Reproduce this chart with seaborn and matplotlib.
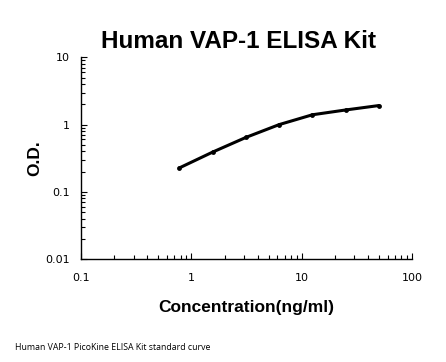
import numpy as np
import pandas as pd
import matplotlib
matplotlib.use("Agg")
import matplotlib.pyplot as plt
import seaborn as sns
from matplotlib.ticker import LogLocator, FixedLocator, FixedFormatter, NullFormatter

# standard curve values
conc = [0.78, 1.56, 3.125, 6.25, 12.5, 25, 50]
od = [0.227, 0.39, 0.645, 1.0, 1.40, 1.65, 1.92]

x_ticks = [0.1, 1, 10, 100]
x_labels = ["0.1", "1", "10", "100"]
y_ticks = [0.01, 0.1, 1, 10]
y_labels = ["0.01", "0.1", "1", "10"]

df = pd.DataFrame({"conc": conc, "od": od})

sns.set_style("white")
plt.rcParams['font.family'] = ['Liberation Sans', 'DejaVu Sans']
plt.rcParams['text.color'] = 'black'
plt.rcParams['axes.labelcolor'] = 'black'

fig = plt.figure(figsize=(4.46, 3.62), dpi=100)
ax = fig.add_axes([0.1816, 0.2845, 0.7424, 0.557])

sns.lineplot(data=df, x="conc", y="od", ax=ax, color="black", linewidth=2.2,
             marker="o", markersize=3.5, markeredgewidth=0)

ax.set_xscale("log")
ax.set_yscale("log")
ax.set_xlim(0.1, 100)
ax.set_ylim(0.01, 10)

ax.xaxis.set_major_locator(FixedLocator(x_ticks))
ax.xaxis.set_major_formatter(FixedFormatter(x_labels))
ax.yaxis.set_major_locator(FixedLocator(y_ticks))
ax.yaxis.set_major_formatter(FixedFormatter(y_labels))
ax.xaxis.set_minor_locator(LogLocator(base=10, subs=np.arange(2, 10)))
ax.yaxis.set_minor_locator(LogLocator(base=10, subs=np.arange(2, 10)))
ax.xaxis.set_minor_formatter(NullFormatter())
ax.yaxis.set_minor_formatter(NullFormatter())

ax.tick_params(axis="both", which="major", direction="in", length=4, width=0.8,
               labelsize=8, colors="black", left=True, bottom=True)
ax.tick_params(axis="x", which="major", pad=10)
ax.tick_params(axis="y", which="major", pad=8)
ax.tick_params(axis="both", which="minor", direction="in", length=3, width=0.8,
               colors="black", left=True, bottom=True)
for lbl in ax.get_xticklabels() + ax.get_yticklabels():
    lbl.set_family("DejaVu Sans")

for side in ["top", "right"]:
    ax.spines[side].set_visible(False)
for side in ["left", "bottom"]:
    ax.spines[side].set_color("black")
    ax.spines[side].set_linewidth(1.0)

ax.set_xlabel("Concentration(ng/ml)", fontsize=12.5, fontweight="bold", labelpad=12)
ax.set_ylabel("O.D.", fontsize=12.5, fontweight="bold", labelpad=2)

fig.text(0.535, 0.885, "Human VAP-1 ELISA Kit", ha="center", va="center",
         fontsize=17.5, fontweight="bold")
fig.text(0.034, 0.039, "Human VAP-1 PicoKine ELISA Kit standard curve",
         ha="left", va="center", fontsize=6.3, family=["Open Sans", "DejaVu Sans"])

fig.savefig("out.png", dpi=100)
